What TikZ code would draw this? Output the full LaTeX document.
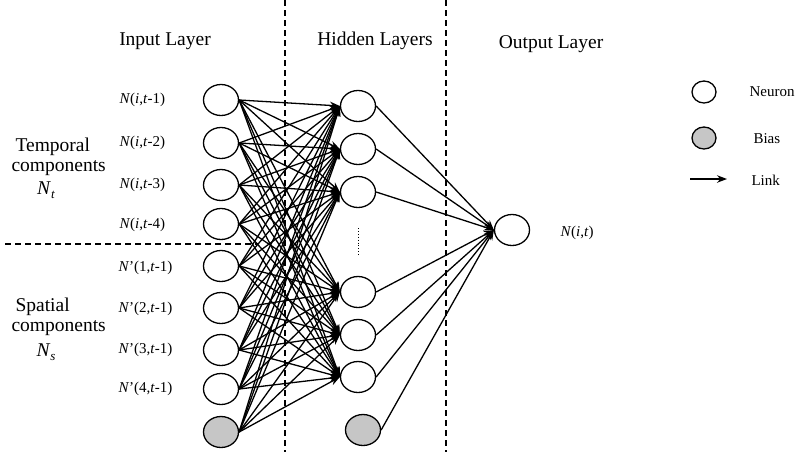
\documentclass[tikz,border=0pt]{standalone}
\usepackage{fontspec}
\setmainfont{Liberation Serif}
\usetikzlibrary{shapes.geometric,arrows.meta}
\newcommand{\subit}[1]{\raisebox{-0.45ex}{\fontsize{13}{13}\selectfont\textit{#1}}}
\begin{document}
\begin{tikzpicture}[x=1pt,y=-1pt,
 neuron/.style={draw,ellipse,line width=1.3pt,minimum width=35pt,minimum height=31pt,inner sep=0pt},
 bias/.style={neuron,fill=gray!45},
 smallneuron/.style={neuron,minimum width=24pt,minimum height=22pt},
 link/.style={line width=1.3pt,-{Stealth[length=10pt,width=7.5pt]}},
 divider/.style={line width=1.2pt,dash pattern=on 6pt off 4pt},
 lbl/.style={font=\fontsize{15}{17}\selectfont},
 big/.style={font=\fontsize{19.5}{21}\selectfont},
]
\useasboundingbox (0,0) rectangle (800,456);
% dividers
\draw[divider] (285,0) -- (285,452);
\draw[divider] (446,0) -- (446,452);
\draw[divider] (5,244) -- (258,244);
% headings
\node[big] (hin) at (165,41) {Input Layer};
\node[big] (hhid) at (375,41) {Hidden Layers};
\node[big] (hout) at (551,44) {Output Layer};
% left block
\node[big,anchor=west] (tmp1) at (12,147) {Temporal};
\node[big,anchor=west] (tmp2) at (8,168) {components};
\node[big] (tmp3) at (46,190) {\textit{N}\subit{t}};
\node[big,anchor=west] (sp1) at (12,307) {Spatial};
\node[big,anchor=west] (sp2) at (8,328) {components};
\node[big] (sp3) at (46,352) {\textit{N}\subit{s}};
% input neurons
\foreach \n/\y in {1/100,2/143,3/185,4/224,5/266,6/308,7/350,8/389}
  \node[neuron] (i\n) at (221,\y) {};
\node[bias] (i9) at (221,432) {};
% input labels
\node[lbl,anchor=west] (l1) at (116,100) {\textit{N}(\textit{i},\textit{t}-1)};
\node[lbl,anchor=west] (l2) at (116,143) {\textit{N}(\textit{i},\textit{t}-2)};
\node[lbl,anchor=west] (l3) at (116,185) {\textit{N}(\textit{i},\textit{t}-3)};
\node[lbl,anchor=west] (l4) at (116,225) {\textit{N}(\textit{i},\textit{t}-4)};
\node[lbl,anchor=west] (l5) at (115,268) {\textit{N}'(1,\textit{t}-1)};
\node[lbl,anchor=west] (l6) at (115,309) {\textit{N}'(2,\textit{t}-1)};
\node[lbl,anchor=west] (l7) at (115,350) {\textit{N}'(3,\textit{t}-1)};
\node[lbl,anchor=west] (l8) at (115,389) {\textit{N}'(4,\textit{t}-1)};
% hidden neurons
\foreach \n/\y in {1/106,2/149,3/192,4/292,5/335,6/377}
  \node[neuron] (h\n) at (358,\y) {};
\node[bias] (h7) at (363,430) {};
\draw[line width=0.9pt,dotted] (358,228) -- (358,256);
% output
\node[neuron] (o) at (512,230) {};
\node[lbl,anchor=west] (ol) at (557,233) {\textit{N}(\textit{i},\textit{t})};
% links
\foreach \a in {1,...,9}
  \foreach \b in {1,...,6}
    \draw[link] (i\a.east) -- (h\b.west);
\foreach \b in {1,...,7}
  \draw[link] (h\b.east) -- (o.west);
% legend
\node[smallneuron] (ln) at (704,92) {};
\node[lbl,anchor=west] (lnt) at (746,92) {Neuron};
\node[smallneuron,fill=gray!45] (lb) at (704,138) {};
\node[lbl,anchor=west] (lbt) at (750,139) {Bias};
\coordinate (la1) at (690,179);
\coordinate (la2) at (727,179);
\draw[link] (la1) -- (la2);
\node[lbl,anchor=west] (llt) at (748,180) {Link};
\end{tikzpicture}
\end{document}
